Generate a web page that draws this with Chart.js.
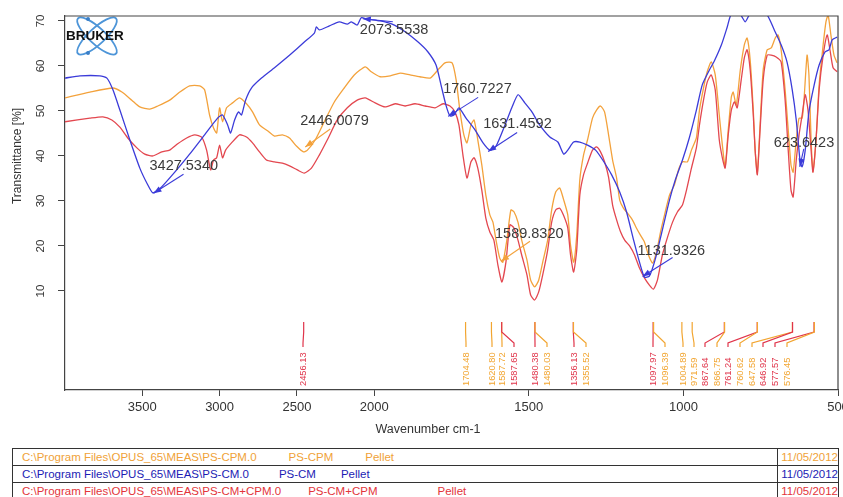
<!DOCTYPE html>
<html>
<head>
<meta charset="utf-8">
<script src="https://cdn.jsdelivr.net/npm/chart.js@4/dist/chart.umd.min.js"></script>
<style>
html,body{margin:0;padding:0;background:#fff;}
#wrap{position:relative;width:843px;height:497px;overflow:hidden;font-family:"Liberation Sans",Arial,sans-serif;}
#c{position:absolute;left:0;top:0;}
#files{position:absolute;left:12px;top:448px;width:827px;border-collapse:collapse;font-size:11.5px;}
#files td{border:1px solid #333;height:16px;line-height:16px;padding:0 0 0 9px;white-space:nowrap;}
#files td.d{width:56px;padding:0 0 0 3px;}
.r1{color:#f0a238}.r2{color:#1c1cb4}.r3{color:#e3343a}
</style>
</head>
<body>
<div id="wrap">
<canvas id="c" width="843" height="443"></canvas>
<table id="files">
<tr class="r1"><td>C:\Program Files\OPUS_65\MEAS\PS-CPM.0<span style="margin-left:32px">PS-CPM</span><span style="margin-left:32px">Pellet</span></td><td class="d">11/05/2012</td></tr>
<tr class="r2"><td>C:\Program Files\OPUS_65\MEAS\PS-CM.0<span style="margin-left:30px">PS-CM</span><span style="margin-left:25px">Pellet</span></td><td class="d">11/05/2012</td></tr>
<tr class="r3"><td>C:\Program Files\OPUS_65\MEAS\PS-CM+CPM.0<span style="margin-left:27px">PS-CM+CPM</span><span style="margin-left:60px">Pellet</span></td><td class="d">11/05/2012</td></tr>
</table>
</div>
<script>
// ── spectra (wavenumber cm-1 / transmittance %) ──
var blueWn = [4000,3903,3774,3729,3690,3645,3581,3516,3465,3432,3387,3290,3194,3097,3013,2981,2948,2929,2903,2877,2858,2832,2794,2729,2645,2548,2452,2387,2374,2355,2290,2226,2174,2148,2110,2084,2045,1981,1942,1900,1858,1826,1800,1784,1768,1755,1742,1726,1703,1674,1648,1626,1606,1577,1555,1535,1513,1490,1465,1432,1406,1387,1374,1355,1335,1310,1284,1261,1232,1206,1184,1161,1142,1126,1110,1090,1068,1045,1026,1003,981,958,939,916,900,877,858,845,816,800,784,755,729,706,684,665,648,635,623,616,606,594,577,561,542,529,519,503];
var blueT = [57.3,57.8,57.8,57.3,54.7,50.2,43.6,37.3,33.6,31.8,32.7,36.4,40.4,44.7,48.4,49.1,46.9,45.1,48,49.8,49.1,52.4,55.1,57.3,59.6,62.4,65.3,67.3,68.7,68,68.9,69.8,69.3,69.8,69.1,70.7,70.4,70,69.3,67.6,65.3,63.1,60.2,55.8,51.3,48.9,49.1,50.7,48.4,45.8,42.9,41.3,42.2,46.9,50.7,53.6,51.8,49.8,46.9,44.2,43.1,40.4,41.3,43.1,43.1,42.4,41.3,39.1,35.8,32,27.6,21.3,16.4,13.1,13.3,17.3,23.6,30.2,34.7,39.1,44,50.2,55.8,59.1,61.1,64.7,68.7,71.5,71.4,69.8,71.6,72,71.3,68,64.7,60.9,54.7,48,39.1,37.6,41.3,49.8,55.8,60.2,63.1,63.6,65.8,66.4];

var orangeWn = [4000,3839,3690,3632,3568,3516,3452,3400,3323,3258,3194,3129,3097,3065,3039,3019,3000,2981,2955,2916,2871,2826,2787,2742,2690,2645,2594,2548,2503,2458,2432,2381,2323,2258,2194,2129,2058,2019,1981,1948,1916,1884,1852,1819,1794,1771,1748,1735,1723,1710,1700,1687,1677,1665,1652,1639,1626,1616,1606,1594,1584,1571,1558,1548,1535,1523,1506,1494,1481,1468,1455,1439,1426,1413,1400,1387,1374,1365,1355,1345,1335,1323,1310,1294,1281,1268,1255,1242,1229,1216,1206,1194,1181,1165,1152,1139,1126,1113,1100,1087,1074,1061,1045,1029,1016,1003,987,974,958,948,935,923,910,897,884,874,865,855,845,839,829,816,803,794,784,774,768,761,752,742,729,716,703,694,684,671,661,652,645,635,626,616,610,600,594,587,581,571,561,548,539,532,523,513,503];
var orangeT = [52.9,54.2,55.1,54.2,52.4,50.9,50.4,51.1,52.4,54.2,55.6,55.6,54.7,49.1,46.2,45.1,50.7,47.6,50.7,51.8,52.9,51.6,49.8,46.9,45.6,44.4,44.7,44,42.2,40.9,41.3,43.6,47.6,52,55.1,58,59.8,58.7,57.6,57.8,58.4,58,57.6,57.3,59.1,60.7,60.7,56.9,50.2,44.7,42.9,46.9,48,43.6,38,31.3,26.9,25.3,21.3,17.3,16.4,21.3,28,27.6,25.3,21.3,16.9,12.4,10.9,12.4,16.4,21.3,28,32,32.9,30.2,26.9,20.2,16.4,22.4,34.7,40.2,43.6,48.4,50.2,51.1,49.8,44.7,39.1,35.1,30.2,28.4,27.3,25.8,24,22.4,20.9,18,16.2,18.7,23.1,26.9,31.3,33.6,36.9,38.7,38.7,41.3,44,50.2,55.1,58.7,60.9,58,49.1,42.4,37.6,45.8,53.1,54.2,51.3,59.1,64.7,66.2,61.3,50.2,41.3,36.2,46.9,59.1,63.6,64,66.2,66.9,63.6,54.7,45.8,38,36.4,43.6,48.4,48.4,52.4,62.4,58,43.6,36.4,43.6,55.8,64.7,69.8,71.3,66.9,62.4,60.7];

var redWn = [4000,3839,3755,3697,3645,3594,3535,3484,3432,3374,3323,3271,3213,3161,3116,3084,3058,3039,3019,3000,2981,2961,2923,2871,2826,2787,2742,2697,2645,2594,2548,2497,2452,2406,2355,2303,2239,2174,2110,2058,1997,1965,1932,1900,1868,1835,1803,1777,1755,1739,1726,1713,1700,1687,1677,1665,1652,1639,1626,1613,1600,1587,1574,1561,1548,1535,1523,1506,1494,1481,1468,1455,1439,1426,1413,1400,1387,1374,1365,1355,1345,1335,1323,1310,1294,1281,1268,1255,1242,1229,1216,1203,1190,1174,1158,1142,1126,1110,1097,1084,1068,1052,1035,1019,1003,990,974,958,948,935,923,910,897,884,874,865,855,845,835,826,813,803,794,784,774,768,761,752,742,729,716,700,684,671,661,652,645,635,626,616,606,597,587,581,571,561,548,535,526,516,503];
var redT = [47.6,48.4,48.7,48,46.4,44,41.8,40.4,40,40.9,41.3,42.7,44,44.7,44.2,41.3,36.9,39.1,39.6,42.4,39.6,41.3,42.9,44.7,44.2,42.9,40.9,39.1,38.7,38.4,37.8,36.9,36.2,37.3,40.2,43.6,48,50.7,52.4,52.9,51.8,50.9,51.6,51.1,51.6,51.1,50.7,51.6,51.1,49.8,46.9,40.2,35.1,38.7,39.6,37.3,32.4,26.2,23.1,21.3,15.8,12,16.4,24.7,24,21.3,18,13.6,9.1,8,9.8,13.6,19.1,25.3,28,28.4,26.7,24,18,14.2,19.1,31.3,35.8,38.4,41.3,42,40.9,38.7,35.3,29.1,25.8,23.1,21.3,20,18,15.1,12.9,11.3,10.4,12.4,18,21.8,25.3,27.6,29.1,32.4,37.3,41.8,46.9,52.4,56.4,58,54.7,43.6,39.6,37.3,44.7,50.2,52,50.7,56.9,61.8,63.6,59.1,49.1,41.3,35.8,45.8,56.9,62.4,62.4,62,60.9,52.4,41.3,32.4,30.9,39.1,44.7,49.1,53.6,50.2,41.3,36.4,43.6,54.7,62.4,66.9,63.6,59.6,58.7];

// axis ticks
var xTicks = [3500, 3000, 2500, 2000, 1500, 1000, 500];
var yTicks = [10, 20, 30, 40, 50, 60, 70];

// labelled peaks (arrow annotations)
var peakWn = [3427.5340, 2073.5538, 2446.0079, 1760.7227, 1631.4592, 1589.8320, 1131.9326, 623.6423];
var peakT = [31.7, 70.5, 42.0, 48.8, 41.0, 16.6, 13.2, 37.6];
var peakSet = ['b', 'b', 'o', 'b', 'b', 'o', 'b', 'b'];

// peak table sticks
var stickWn = [2456.13, 1704.48, 1620.80, 1587.72, 1587.65, 1480.38, 1480.03, 1356.13, 1355.52, 1097.97, 1096.39, 1004.89, 971.59, 867.64, 866.75, 761.24, 760.62, 647.58, 646.92, 577.57, 576.45];
var stickSet = ['r', 'o', 'o', 'o', 'r', 'r', 'o', 'r', 'o', 'r', 'o', 'o', 'o', 'r', 'o', 'r', 'o', 'o', 'r', 'r', 'o'];

// ── layout / style ──
var FONT = '"Liberation Sans", Arial, sans-serif';
var COL = { b: '#3b3bd9', o: '#f3a23c', r: '#e3474f' };
var STICK_COL = { o: '#f2a530', r: '#e0344a' };
var STICK_SLOT = [303, 466, 492, 502, 514, 535, 547, 574, 586, 653, 665, 683, 694, 705, 717, 728, 740, 752, 763, 775, 787];
// text dx,dy and leader end dx,dy relative to marker
var PEAK_OFF = [[-4,-27,30,-19],[-3,11,30,3],[-5,-26,25,-18],[-5,-27,30,-19],[-5,-27,29,-19],[-6,-27,29,-20],[-5,-26,30,-19],[-26,-24,4,-18]];

function toU(w) { return w > 2000 ? 2000 + (w - 2000) / 2 : w; }
function fromU(u) { return u > 2000 ? 2000 + (u - 2000) * 2 : u; }

// linear scale with the usual OPUS compression above 2000 cm-1
class BrokenScale extends Chart.LinearScale {
    configure() {
        super.configure();
        this._startValue = toU(this.min);
        this._endValue = toU(this.max);
        this._valueRange = this._endValue - this._startValue;
    }
    getPixelForValue(v) {
        if (v === null || v === undefined) return NaN;
        return this.getPixelForDecimal((toU(v) - this._startValue) / this._valueRange);
    }
    getValueForPixel(p) {
        return fromU(this._startValue + this.getDecimalForPixel(p) * this._valueRange);
    }
}
BrokenScale.id = 'broken';
BrokenScale.defaults = Chart.LinearScale.defaults;
Chart.register(BrokenScale);

function pts(wn, t) { return wn.map(function(w, i) { return { x: w, y: t[i] }; }); }

function drawLogo(ctx, a) {
    var cx = a.left + 32, cy = a.top + 20;
    ctx.save();
    ctx.strokeStyle = '#4d95d8'; ctx.lineWidth = 1.8;
    [-0.75, 0.75].forEach(function(r) {
        ctx.beginPath(); ctx.ellipse(cx, cy, 26, 8, r, 0, Math.PI * 2); ctx.stroke();
    });
    ctx.fillStyle = '#3a7fc8';
    [[-9, -17], [-9, 17]].forEach(function(d) {
        ctx.beginPath(); ctx.arc(cx + d[0], cy + d[1], 2, 0, Math.PI * 2); ctx.fill();
    });
    ctx.fillStyle = '#111'; ctx.font = 'bold 13.5px ' + FONT; ctx.textBaseline = 'middle'; ctx.textAlign = 'left';
    ctx.fillText('BRUKER', a.left + 1, cy);
    ctx.restore();
}

var decor = {
    id: 'decor',
    beforeDatasetsDraw: function(chart) { drawLogo(chart.ctx, chart.chartArea); },
    afterDatasetsDraw: function(chart) {
        var ctx = chart.ctx, a = chart.chartArea, xs = chart.scales.x, ys = chart.scales.y;
        ctx.save();
        // frame
        ctx.strokeStyle = '#444'; ctx.lineWidth = 1.2;
        ctx.beginPath(); ctx.moveTo(a.left, a.top); ctx.lineTo(a.right, a.top); ctx.lineTo(a.right, a.bottom); ctx.stroke();

        // peak annotations
        ctx.font = '14.5px ' + FONT; ctx.textBaseline = 'middle'; ctx.textAlign = 'left';
        peakWn.forEach(function(w, i) {
            var mx = xs.getPixelForValue(w), my = ys.getPixelForValue(peakT[i]);
            var o = PEAK_OFF[i], c = COL[peakSet[i]];
            var ex = mx + o[2], ey = my + o[3];
            ctx.strokeStyle = c; ctx.fillStyle = c; ctx.lineWidth = 1.1;
            ctx.beginPath(); ctx.moveTo(mx, my); ctx.lineTo(ex, ey); ctx.stroke();
            var ang = Math.atan2(my - ey, mx - ex);
            ctx.beginPath();
            ctx.moveTo(mx, my);
            ctx.lineTo(mx - 8 * Math.cos(ang) + 3 * Math.sin(ang), my - 8 * Math.sin(ang) - 3 * Math.cos(ang));
            ctx.lineTo(mx - 8 * Math.cos(ang) - 3 * Math.sin(ang), my - 8 * Math.sin(ang) + 3 * Math.cos(ang));
            ctx.closePath(); ctx.fill();
            ctx.fillStyle = '#3a3a3a';
            ctx.fillText(w.toFixed(4), mx + o[0], my + o[1]);
        });

        // peak sticks
        var yTop = a.bottom - 68, yB1 = a.bottom - 58, yB2 = a.bottom - 47, yEnd = a.bottom - 43, yLab = a.bottom - 4;
        ctx.lineWidth = 1.2;
        ctx.font = '9.3px ' + FONT;
        stickWn.forEach(function(w, i) {
            var x0 = xs.getPixelForValue(w), x1 = STICK_SLOT[i], c = STICK_COL[stickSet[i]];
            ctx.strokeStyle = c;
            ctx.beginPath();
            ctx.moveTo(x0, yTop); ctx.lineTo(x0, yB1); ctx.lineTo(x1, yB2); ctx.lineTo(x1, yEnd);
            ctx.stroke();
            ctx.save();
            ctx.translate(x1, yLab); ctx.rotate(-Math.PI / 2);
            ctx.fillStyle = c; ctx.textAlign = 'left'; ctx.textBaseline = 'middle';
            ctx.fillText(w.toFixed(2), 0, 0);
            ctx.restore();
        });

        // axis titles
        ctx.fillStyle = '#333'; ctx.font = '12px ' + FONT; ctx.textAlign = 'center'; ctx.textBaseline = 'middle';
        ctx.save(); ctx.translate(18, ys.getPixelForValue(40)); ctx.rotate(-Math.PI / 2);
        ctx.fillText('Transmittance [%]', 0, 0); ctx.restore();
        ctx.font = '12.5px ' + FONT;
        ctx.fillText('Wavenumber cm-1', 428, 430);
        ctx.restore();
    }
};

new Chart(document.getElementById('c'), {
    type: 'line',
    data: {
        datasets: [
            { label: 'PS-CM', data: pts(blueWn, blueT), borderColor: COL.b, borderWidth: 1.3, pointRadius: 0, tension: 0.2, fill: false },
            { label: 'PS-CM+CPM', data: pts(redWn, redT), borderColor: COL.r, borderWidth: 1.3, pointRadius: 0, tension: 0.2, fill: false },
            { label: 'PS-CPM', data: pts(orangeWn, orangeT), borderColor: COL.o, borderWidth: 1.3, pointRadius: 0, tension: 0.2, fill: false }
        ]
    },
    options: {
        responsive: false, animation: false,
        layout: { padding: { top: 16, right: 5, left: 0, bottom: 0 } },
        plugins: { legend: { display: false }, tooltip: { enabled: false } },
        scales: {
            x: {
                type: 'broken', min: 500, max: 4000, reverse: true,
                grid: { drawOnChartArea: false, tickLength: 6, color: '#444' },
                border: { color: '#444', width: 1.2 },
                afterBuildTicks: function(s) { s.ticks = xTicks.map(function(v) { return { value: v }; }); },
                afterFit: function(s) { s.height = 53; s.paddingLeft = 0; s.paddingRight = 0; },
                ticks: { color: '#333', font: { size: 13, family: FONT }, padding: 4, maxRotation: 0, autoSkip: false,
                    callback: function(v) { return String(v); } }
            },
            y: {
                min: -12, max: 71.1,
                grid: { drawOnChartArea: false, tickLength: 7, color: '#444' },
                border: { color: '#444', width: 1.2 },
                afterBuildTicks: function(s) { s.ticks = yTicks.map(function(v) { return { value: v }; }); },
                afterFit: function(s) { s.width = 65; s.paddingTop = 0; s.paddingBottom = 0; },
                ticks: { color: '#333', font: { size: 11.5, family: FONT }, padding: 11, minRotation: 90, maxRotation: 90,
                    crossAlign: 'center', autoSkip: false }
            }
        }
    },
    plugins: [decor]
});
</script>
</body>
</html>
